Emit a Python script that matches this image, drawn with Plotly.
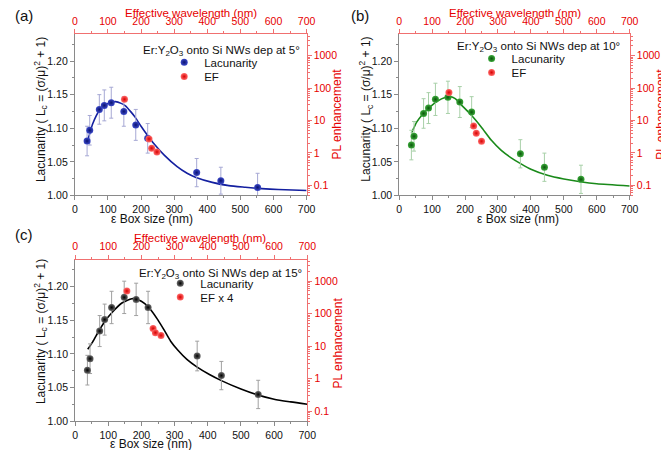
import plotly.graph_objects as go

W, H = 669, 450

# ---------------- data ----------------
box_size = [37, 45, 74, 89, 110, 148, 184, 220, 368, 441, 552]

lac_a = [1.081, 1.097, 1.128, 1.134, 1.138, 1.125, 1.105, 1.085, 1.034, 1.022, 1.012]
err_a = [0.022, 0.022, 0.022, 0.023, 0.023, 0.022, 0.023, 0.022, 0.021, 0.020, 0.021]
lac_b = [1.075, 1.088, 1.122, 1.130, 1.143, 1.146, 1.139, 1.124, 1.062, 1.042, 1.024]
err_b = [0.022, 0.022, 0.022, 0.023, 0.024, 0.024, 0.023, 0.023, 0.021, 0.021, 0.021]
lac_c = [1.076, 1.093, 1.134, 1.151, 1.169, 1.184, 1.181, 1.169, 1.097, 1.068, 1.040]
err_c = [0.022, 0.022, 0.023, 0.023, 0.024, 0.024, 0.024, 0.024, 0.022, 0.021, 0.021]

ef_x_a = [150, 224, 232, 248]
ef_a = [45, 2.7, 1.4, 1.07]
ef_x_b = [151, 226, 234, 250]
ef_b = [73, 6.8, 4.05, 2.3]
ef_x_c = [156, 235, 242, 259]
ef_c = [495, 35, 26, 21.5]

fit_x_a = [37, 45, 54, 74, 93, 110, 123, 140, 152, 170, 182, 200, 211, 241, 270, 309, 339, 366, 415, 465, 515, 564, 614, 700]
fit_a = [1.079, 1.092, 1.1066, 1.1263, 1.1351, 1.1385, 1.1396, 1.137, 1.1337, 1.124, 1.1165, 1.103, 1.0953,
         1.0757, 1.060, 1.0428, 1.033, 1.0268, 1.0195, 1.0146, 1.0122, 1.0102, 1.0088, 1.0073]
fit_x_b = [37, 45, 53, 70, 92, 115, 141, 155, 170, 190, 220, 249, 280, 310, 340, 370, 400, 450, 500, 550, 600, 700]
fit_b = [1.093, 1.101, 1.109, 1.120, 1.131, 1.140, 1.146, 1.147, 1.144, 1.134, 1.119, 1.102, 1.082, 1.067,
         1.056, 1.047, 1.039, 1.030, 1.0245, 1.0205, 1.0175, 1.0142]
fit_x_c = [38, 53, 72, 92, 112, 141, 171, 190, 210, 229, 249, 269, 288, 310, 337, 368, 405, 441, 500, 552, 600, 650, 700]
fit_c = [1.107, 1.118, 1.1345, 1.150, 1.162, 1.1756, 1.182, 1.1804, 1.1746, 1.165, 1.151, 1.135, 1.119, 1.1055,
         1.092, 1.0805, 1.0695, 1.0605, 1.048, 1.039, 1.033, 1.029, 1.0255]

left_ticks = [1.00, 1.05, 1.10, 1.15, 1.20]
left_tick_text = ["1.00", "1.05", "1.10", "1.15", "1.20"]
right_ticks = [0.1, 1, 10, 100, 1000]
right_tick_text = ["0.1", "1", "10", "100", "1000"]
x_ticks = [0, 100, 200, 300, 400, 500, 600, 700]

captions = ["Er:Y<sub>2</sub>O<sub>3</sub> onto Si NWs dep at 5°",
            "Er:Y<sub>2</sub>O<sub>3</sub> onto Si NWs dep at 10°",
            "Er:Y<sub>2</sub>O<sub>3</sub> onto Si NWs dep at 15°"]
ef_names = ["EF", "EF", "EF x 4"]
panel_labels = ["(a)", "(b)", "(c)"]
title_bottom = "ε Box size (nm)"
title_top = "Effective wavelength (nm)"
title_left = "Lacunarity ( L<sub>c</sub> = (σ/μ)<sup>2</sup> + 1)"
title_right = "PL enhancement"

# ---------------- style ----------------
FONT = "Liberation Sans, Arial, sans-serif"
RED = "#e60000"
RED_LINE = "#f07070"
GRAY_LINE = "#8a8a8a"

panels = [
    dict(lac=lac_a, err=err_a, efx=ef_x_a, ef=ef_a, fx=fit_x_a, fy=fit_a,
         dx=(65, 301), dy=(26.5, 190),
         mc="#3a48c8", mg="#0a1270", lc="#1420a0", ec="#a6a8d4",
         cap=(296, 43.5), lab=(2, 8), leg=(204, 62, 76.5),
         tb=(143.5, 213.5), tt=(183.3, 5.5), tl=(30, 103), tr=(332, 108)),
    dict(lac=lac_b, err=err_b, efx=ef_x_b, ef=ef_b, fx=fit_x_b, fy=fit_b,
         dx=(395.3, 630), dy=(26.5, 190),
         mc="#3aa83a", mg="#0a560a", lc="#1a8a1a", ec="#a8d0a8",
         cap=(622, 40), lab=(344, 8), leg=(517, 58.3, 72.3),
         tb=(516, 213.5), tt=(513, 5.5), tl=(361.5, 103), tr=(661, 108)),
    dict(lac=lac_c, err=err_c, efx=ef_x_c, ef=ef_c, fx=fit_x_c, fy=fit_c,
         dx=(65.3, 301.7), dy=(255, 419),
         mc="#6a6a6a", mg="#000000", lc="#000000", ec="#a0a0a0",
         cap=(298.5, 269.5), lab=(2, 230), leg=(200, 286, 300),
         tb=(142.5, 442), tt=(192, 233), tl=(30, 328), tr=(333, 340)),
]


def fx(p):
    return p / W


def fy(p):
    return 1 - p / H


def key(prefix, k):
    return prefix if k == 1 else f"{prefix}{k}"


fig = go.Figure()
layout = dict(
    width=W, height=H, margin=dict(l=0, r=0, t=0, b=0),
    paper_bgcolor="white", plot_bgcolor="white",
    font=dict(family=FONT, size=10.5, color="#111"),
    showlegend=True,
)
annotations = []
legend_count = 0


def text_ann(text, pos, color="#111", size=12, angle=0, xanchor="center"):
    return dict(text=text, xref="paper", yref="paper", x=fx(pos[0]), y=fy(pos[1]),
                xanchor=xanchor, yanchor="middle", showarrow=False, textangle=angle,
                font=dict(size=size, color=color, family=FONT))


for i, p in enumerate(panels):
    k1, k2 = 2 * i + 1, 2 * i + 2
    xd = [fx(p["dx"][0]), fx(p["dx"][1])]
    yd = [fy(p["dy"][1]), fy(p["dy"][0])]

    layout[key("xaxis", k1)] = dict(
        domain=xd, range=[0, 700], anchor=key("y", k1), side="bottom",
        showline=True, linecolor=GRAY_LINE, linewidth=1, mirror=False,
        showgrid=False, zeroline=False,
        ticks="outside", ticklen=4, tickcolor=GRAY_LINE, tickvals=x_ticks,
        minor=dict(ticks="outside", ticklen=2, tickcolor=GRAY_LINE, dtick=50, tick0=0),
        tickfont=dict(size=10.5, color="#111"),
    )
    layout[key("yaxis", k1)] = dict(
        domain=yd, range=[1.0, 1.24], anchor=key("x", k1), side="left",
        showline=True, linecolor=GRAY_LINE, linewidth=1,
        showgrid=False, zeroline=False,
        ticks="outside", ticklen=4, tickcolor=GRAY_LINE,
        tickvals=left_ticks, ticktext=left_tick_text,
        minor=dict(ticks="outside", ticklen=2, tickcolor=GRAY_LINE, dtick=0.025, tick0=1.0),
        tickfont=dict(size=10.5, color="#111"),
    )
    layout[key("xaxis", k2)] = dict(
        range=[0, 700], overlaying=key("x", k1), anchor=key("y", k1), side="top",
        showline=True, linecolor=RED_LINE, linewidth=1,
        showgrid=False, zeroline=False,
        ticks="outside", ticklen=4, tickcolor=RED_LINE, tickvals=x_ticks,
        minor=dict(ticks="outside", ticklen=2, tickcolor=RED_LINE, dtick=50, tick0=0),
        tickfont=dict(size=10.5, color=RED),
    )
    layout[key("yaxis", k2)] = dict(
        type="log", range=[-1.31, 3.66], overlaying=key("y", k1), anchor=key("x", k1), side="right",
        showline=True, linecolor=RED_LINE, linewidth=1,
        showgrid=False, zeroline=False,
        ticks="outside", ticklen=4, tickcolor=RED_LINE,
        tickvals=right_ticks, ticktext=right_tick_text,
        minor=dict(ticks="outside", ticklen=2, tickcolor=RED_LINE, dtick="D1"),
        tickfont=dict(size=10.5, color=RED),
    )

    xr1, yr1 = key("x", k1), key("y", k1)
    xr2, yr2 = key("x", k2), key("y", k2)

    # fit line
    fig.add_trace(go.Scatter(
        x=p["fx"], y=p["fy"], mode="lines", xaxis=xr1, yaxis=yr1,
        line=dict(color=p["lc"], width=1.6, shape="spline", smoothing=0.6),
        showlegend=False, hoverinfo="skip"))

    # legends (one item each)
    lx, ly1, ly2 = p["leg"]
    leg1 = key("legend", legend_count + 1)
    leg2 = key("legend", legend_count + 2)
    legend_count += 2
    for lk, ly in ((leg1, ly1), (leg2, ly2)):
        layout[lk] = dict(x=fx(lx - 48), y=fy(ly - 7), xanchor="left", yanchor="middle",
                          bgcolor="rgba(0,0,0,0)", borderwidth=0,
                          font=dict(size=11.5, color="#111"))

    fig.add_trace(go.Scatter(
        x=box_size, y=p["lac"], mode="markers", xaxis=xr1, yaxis=yr1,
        name="Lacunarity", legend=leg1,
        marker=dict(size=7, color=p["mc"], gradient=dict(type="radial", color=p["mg"]),
                    line=dict(width=0)),
        error_y=dict(type="data", array=p["err"], color=p["ec"], thickness=1, width=2)))

    fig.add_trace(go.Scatter(
        x=p["efx"], y=p["ef"], mode="markers", xaxis=xr2, yaxis=yr2,
        name=ef_names[i], legend=leg2,
        marker=dict(size=7, color="#ff6a6a", gradient=dict(type="radial", color="#d80000"),
                    line=dict(width=0))))

    annotations.append(text_ann(captions[i], p["cap"], size=11.5, xanchor="right"))
    annotations.append(text_ann(panel_labels[i], p["lab"], size=15, xanchor="left"))
    annotations.append(text_ann(title_bottom, p["tb"]))
    annotations.append(text_ann(title_top, p["tt"], color=RED, size=11.5))
    annotations.append(text_ann(title_left, p["tl"], angle=-90))
    annotations.append(text_ann(title_right, p["tr"], color=RED, angle=-90))

layout["annotations"] = annotations
fig.update_layout(**layout)
fig.write_html("out.html")
